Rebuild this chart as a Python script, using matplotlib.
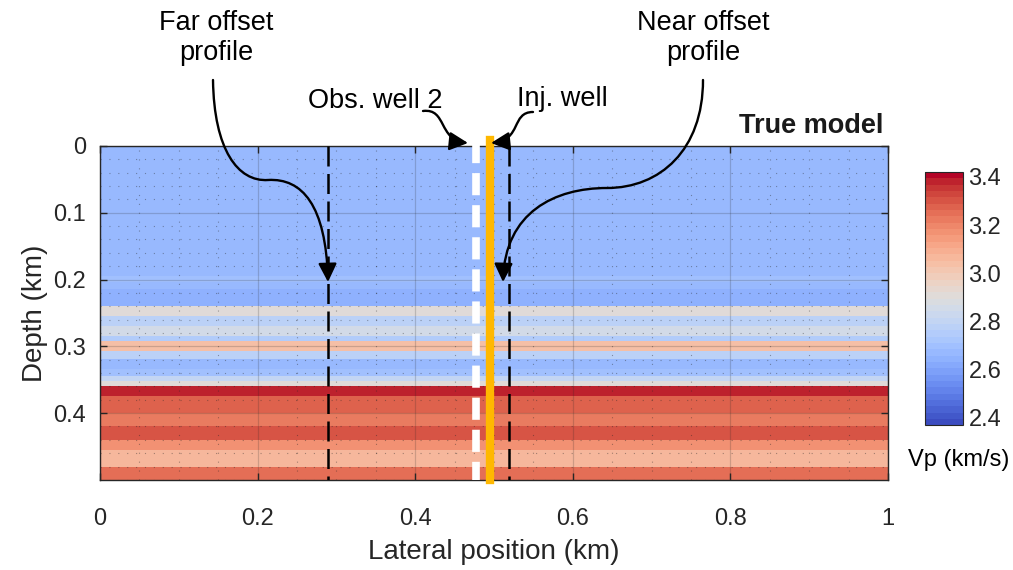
import numpy as np
import matplotlib
matplotlib.use("Agg")
import matplotlib.pyplot as plt
from matplotlib.path import Path
from matplotlib.patches import FancyArrowPatch
import matplotlib.transforms as mtransforms

plt.rcParams['font.family'] = ['Liberation Sans', 'DejaVu Sans']

# layered Vp model: top depth of each layer (km) and velocity (km/s)
layer_top = [0.000, 0.195, 0.203, 0.213, 0.240, 0.253, 0.268, 0.283, 0.291,
             0.306, 0.318, 0.333, 0.345, 0.351, 0.360, 0.375, 0.400, 0.419,
             0.438, 0.453, 0.478]
layer_vp = [2.68, 2.70, 2.68, 2.645, 2.90, 2.78, 2.86, 2.76, 3.05,
            2.78, 2.68, 2.71, 2.80, 2.90, 3.38, 3.28, 3.22, 3.30,
            3.17, 3.07, 3.25]
z_max = 0.5

# well and profile locations (km)
far_profile_x = 0.289
near_profile_x = 0.519
obs_well_x = 0.477
inj_well_x = 0.495

x_ticks = [0, 0.2, 0.4, 0.6, 0.8, 1]
x_ticklabels = ['0', '0.2', '0.4', '0.6', '0.8', '1']
z_ticks = [0, 0.1, 0.2, 0.3, 0.4]
z_ticklabels = ['0', '0.1', '0.2', '0.3', '0.4']
cb_ticks = [2.4, 2.6, 2.8, 3.0, 3.2, 3.4]

z = np.arange(0, z_max, 0.0025)
idx = np.searchsorted(layer_top, z, side='right') - 1
vp = np.array(layer_vp)[idx]
model = np.tile(vp[:, None], (1, 4))

fig = plt.figure(figsize=(10.13, 5.7), dpi=100)
ax = fig.add_axes([0.0987, 0.158, 0.7779, 0.586])

cmap = plt.get_cmap('coolwarm', 40)
im = ax.imshow(model, extent=[0, 1, z_max, 0], aspect='auto', cmap=cmap,
               vmin=2.37, vmax=3.42, interpolation='nearest')

ax.set_xlim(0, 1)
ax.set_ylim(z_max, 0)
ax.set_xticks(x_ticks)
ax.set_xticklabels(x_ticklabels)
ax.set_yticks(z_ticks)
ax.set_yticklabels(z_ticklabels)
ax.set_xticks(np.arange(0, 1.0001, 0.05), minor=True)
ax.set_yticks(np.arange(0, 0.5001, 0.02), minor=True)
ax.tick_params(which='major', direction='in', top=True, right=True,
               length=5, width=1, labelsize=17, colors='#262626')
ax.tick_params(axis='x', which='major', pad=20)
ax.tick_params(axis='y', which='major', pad=10)
ax.tick_params(which='minor', length=0)
ax.grid(which='major', color='#262626', alpha=0.2, linewidth=0.9)
ax.grid(which='minor', color='#262626', alpha=0.4, linewidth=0.8,
        linestyle=(0, (1, 7)))
for sp in ax.spines.values():
    sp.set_color('#262626')
    sp.set_linewidth(1)

ax.set_xlabel('Lateral position (km)', fontsize=20, color='#262626',
              labelpad=7)
ax.set_ylabel('Depth (km)', fontsize=20, color='#262626', labelpad=4)

# profiles and wells
ax.plot([far_profile_x, far_profile_x], [0, z_max], color='black', lw=1.8,
        linestyle=(0, (8, 3)), zorder=3)
ax.plot([near_profile_x, near_profile_x], [0, z_max], color='black', lw=1.8,
        linestyle=(0, (8, 3)), zorder=3)
ax.plot([obs_well_x, obs_well_x], [-0.007, z_max], color='white', lw=5.5,
        linestyle=(0, (2.9, 1.3)), clip_on=False, zorder=4)
ax.plot([inj_well_x, inj_well_x], [-0.009, z_max], color='#FFB800', lw=6,
        clip_on=False, zorder=4)

ax.text(0.994, 1.02, 'True model', transform=ax.transAxes, ha='right',
        va='bottom', fontsize=19.5, fontweight='bold', color='#1a1a1a')

# colorbar
cax = fig.add_axes([0.913, 0.254, 0.0375, 0.444])
cb = fig.colorbar(im, cax=cax, ticks=cb_ticks, format='%.1f')
cb.ax.tick_params(length=0, labelsize=17, colors='#262626', pad=4)
cb.outline.set_edgecolor('#262626')
fig.text(0.946, 1 - 460 / 570, 'Vp (km/s)', ha='center', va='center',
         fontsize=17)

# annotation arrows, in pixel coordinates from the top-left corner
px = mtransforms.Affine2D().scale(1 / 1013, -1 / 570).translate(0, 1) + fig.transFigure


def curved_arrow(verts):
    codes = [Path.MOVETO] + [Path.CURVE4] * (len(verts) - 1)
    arr = FancyArrowPatch(path=Path(verts, codes), arrowstyle='-|>',
                          mutation_scale=28, color='black', lw=1.7,
                          transform=px, zorder=6)
    fig.add_artist(arr)


curved_arrow([(213, 80), (214, 150), (238, 182), (268, 180),
              (302, 178), (326, 205), (328, 282)])
curved_arrow([(703, 80), (703, 150), (660, 188), (607, 188),
              (555, 188), (505, 212), (503, 282)])
curved_arrow([(423, 111), (447, 108), (438, 140), (468, 143)])
curved_arrow([(533, 112), (511, 112), (522, 140), (491, 143)])

fig.text(216 / 1013, 1 - 38 / 570, 'Far offset\nprofile', ha='center',
         va='center', fontsize=19.5, linespacing=1.2)
fig.text(703 / 1013, 1 - 38 / 570, 'Near offset\nprofile', ha='center',
         va='center', fontsize=19.5, linespacing=1.2)
fig.text(375 / 1013, 1 - 101 / 570, 'Obs. well 2', ha='center', va='center',
         fontsize=19.5)
fig.text(562 / 1013, 1 - 99 / 570, 'Inj. well', ha='center', va='center',
         fontsize=19.5)

fig.savefig('out.png', dpi=100)
